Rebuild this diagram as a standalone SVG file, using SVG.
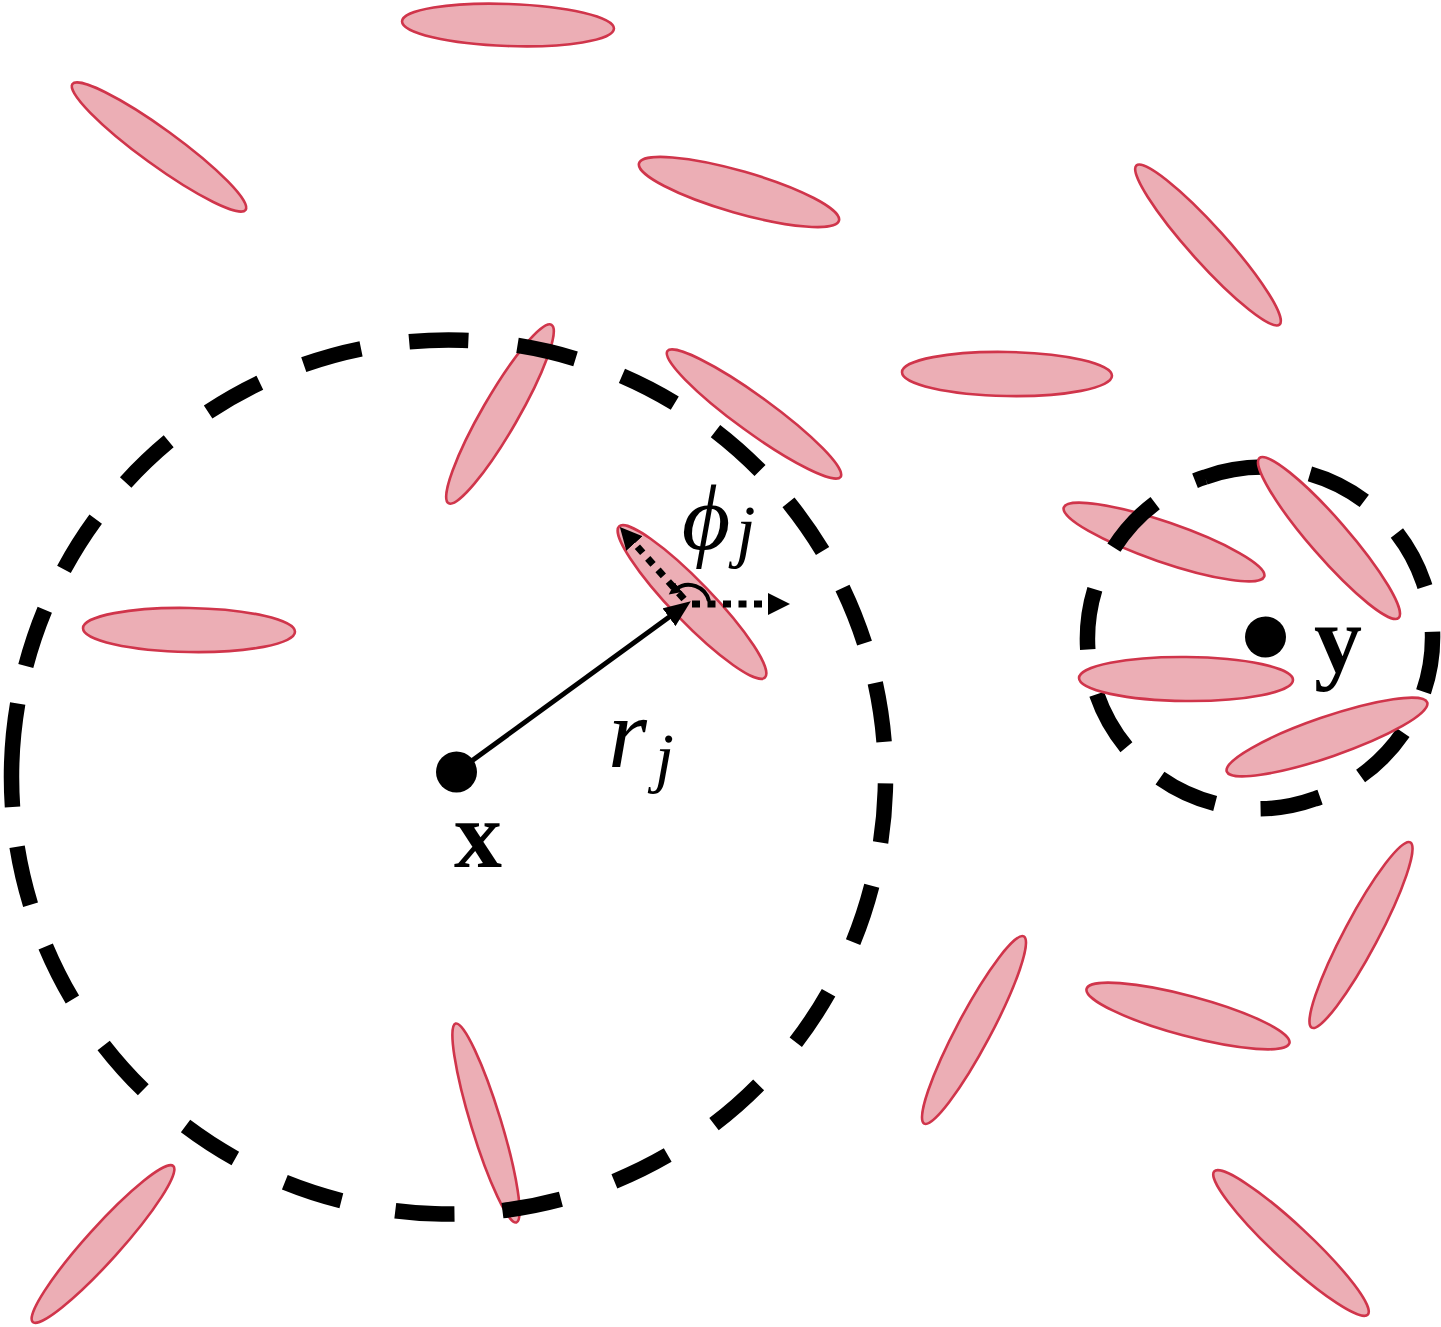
<svg xmlns="http://www.w3.org/2000/svg" width="1441" height="1327" viewBox="0 0 1441 1327">
<style>
.el{fill:#ecaeb5;stroke:#d0354b;stroke-width:2.6}
.ring{fill:none;stroke:#000;stroke-width:15.5;stroke-linecap:butt}
.dot{fill:#000}
.dotted{fill:none;stroke:#000;stroke-width:7;stroke-dasharray:8 7.5}
.lbl{font-family:"Liberation Serif","DejaVu Serif",serif;fill:#000}
</style>
<defs>
<marker id="ah" markerUnits="userSpaceOnUse" markerWidth="28" markerHeight="22" refX="13" refY="11" orient="auto" viewBox="0 0 28 22">
<path d="M0,0 L27,11 L0,22 Z" fill="#000"/>
</marker>
<marker id="ahd" markerUnits="userSpaceOnUse" markerWidth="24" markerHeight="22" refX="0" refY="11" orient="auto" viewBox="0 0 24 22">
<path d="M0,0 L22,11 L0,22 Z" fill="#000"/>
</marker>
<marker id="ahs" markerUnits="userSpaceOnUse" markerWidth="14" markerHeight="12" refX="3" refY="6" orient="auto" viewBox="0 0 14 12">
<path d="M0,0 L12,6 L0,12 Z" fill="#000"/>
</marker>
</defs>
<rect width="1441" height="1327" fill="#fff"/>
<g id="particles-back">
<ellipse id="e1" class="el" cx="508" cy="25" rx="106" ry="21" transform="rotate(2 508 25)"/>
<ellipse id="e2" class="el" cx="159" cy="147" rx="107" ry="18" transform="rotate(36 159 147)"/>
<ellipse id="e3" class="el" cx="739" cy="192" rx="104" ry="21" transform="rotate(16 739 192)"/>
<ellipse id="e4" class="el" cx="1208" cy="245" rx="107" ry="18" transform="rotate(48 1208 245)"/>
<ellipse id="e5" class="el" cx="1007" cy="374" rx="105" ry="22" transform="rotate(1 1007 374)"/>
<ellipse id="e6" class="el" cx="500" cy="414" rx="103" ry="18" transform="rotate(-60 500 414)"/>
<ellipse id="e7" class="el" cx="754" cy="414" rx="107" ry="18" transform="rotate(36 754 414)"/>
<ellipse id="e8" class="el" cx="189" cy="630" rx="106" ry="22" transform="rotate(1 189 630)"/>
<ellipse id="e9" class="el" cx="692" cy="602" rx="105" ry="20" transform="rotate(46 692 602)"/>
<ellipse id="e10" class="el" cx="1164" cy="542" rx="106" ry="20" transform="rotate(19 1164 542)"/>
<ellipse id="e14" class="el" cx="1361" cy="935" rx="105" ry="17" transform="rotate(-62 1361 935)"/>
<ellipse id="e15" class="el" cx="1188" cy="1016" rx="105" ry="20" transform="rotate(15 1188 1016)"/>
<ellipse id="e16" class="el" cx="974" cy="1030" rx="106" ry="17" transform="rotate(-62 974 1030)"/>
<ellipse id="e17" class="el" cx="486" cy="1123" rx="104" ry="15" transform="rotate(73 486 1123)"/>
<ellipse id="e18" class="el" cx="103" cy="1244" rx="105" ry="17" transform="rotate(-48 103 1244)"/>
<ellipse id="e19" class="el" cx="1291" cy="1243" rx="105" ry="18" transform="rotate(43 1291 1243)"/>
</g>
<g id="neighbourhoods">
<path id="ring-x" class="ring" stroke-dasharray="60.25 38.21 59.49 44.69 59.49 47.36 59.49 49.12 59.49 47.52 59.49 48.51 59.49 49.42 59.49 49.42 59.49 49.42 59.49 42.71 59.49 41.95 59.49 41.11 59.49 41.72 59.49 44.01 59.49 56.21 59.49 56.44 59.49 55.68 59.49 56.44 59.49 48.05 59.49 54.91 59.49 54.91 59.49 55.68 59.49 55.52 59.49 44.39 59.49 40.12 44.16 200" d="M11.7,763.3 A437,437 0 1 1 885.3,790.7 A437,437 0 1 1 11.7,763.3"/>
<path id="ring-y" class="ring" stroke-dasharray="61 45.8" d="M1204.9,477.2 A170,170 0 1 1 1315.1,798.8 A170,170 0 1 1 1204.9,477.2"/>
</g>
<g id="particles-front">
<ellipse id="e11" class="el" cx="1329" cy="538" rx="106" ry="19" transform="rotate(49 1329 538)"/>
<ellipse id="e12" class="el" cx="1186" cy="679" rx="107" ry="22" transform="rotate(0.5 1186 679)"/>
<ellipse id="e13" class="el" cx="1327" cy="737" rx="106" ry="20" transform="rotate(-19 1327 737)"/>
</g>
<g id="connectors">
<line id="r-arrow" x1="456.5" y1="772" x2="679.5" y2="609.6" stroke="#000" stroke-width="5" marker-end="url(#ah)"/>
<line id="orient-arrow" class="dotted" x1="684" y1="599" x2="634.5" y2="543.5" marker-end="url(#ahd)"/>
<line id="ref-arrow" class="dotted" x1="692" y1="604" x2="768" y2="604" marker-end="url(#ahd)"/>
<path id="angle-arc" d="M709,601 A21,21 0 0 0 676,589" fill="none" stroke="#000" stroke-width="4" marker-end="url(#ahs)"/>
</g>
<g id="node-x">
<circle class="dot" cx="456.5" cy="772" r="20.5"/>
<text class="lbl" x="478" y="867" font-size="96" font-weight="bold" text-anchor="middle">x</text>
</g>
<g id="node-y">
<circle class="dot" cx="1265.5" cy="637" r="20.5"/>
<text class="lbl" x="1338" y="672" font-size="96" font-weight="bold" text-anchor="middle">y</text>
</g>
<g id="label-r">
<text class="lbl" x="608" y="767" font-size="100" font-style="italic">r</text>
<text class="lbl" x="655" y="780" font-size="68" font-style="italic">j</text>
</g>
<g id="label-phi">
<text class="lbl" x="706" y="549" font-size="94" font-style="italic" text-anchor="middle">ϕ</text>
<text class="lbl" x="736" y="554" font-size="70" font-style="italic">j</text>
</g>
</svg>
